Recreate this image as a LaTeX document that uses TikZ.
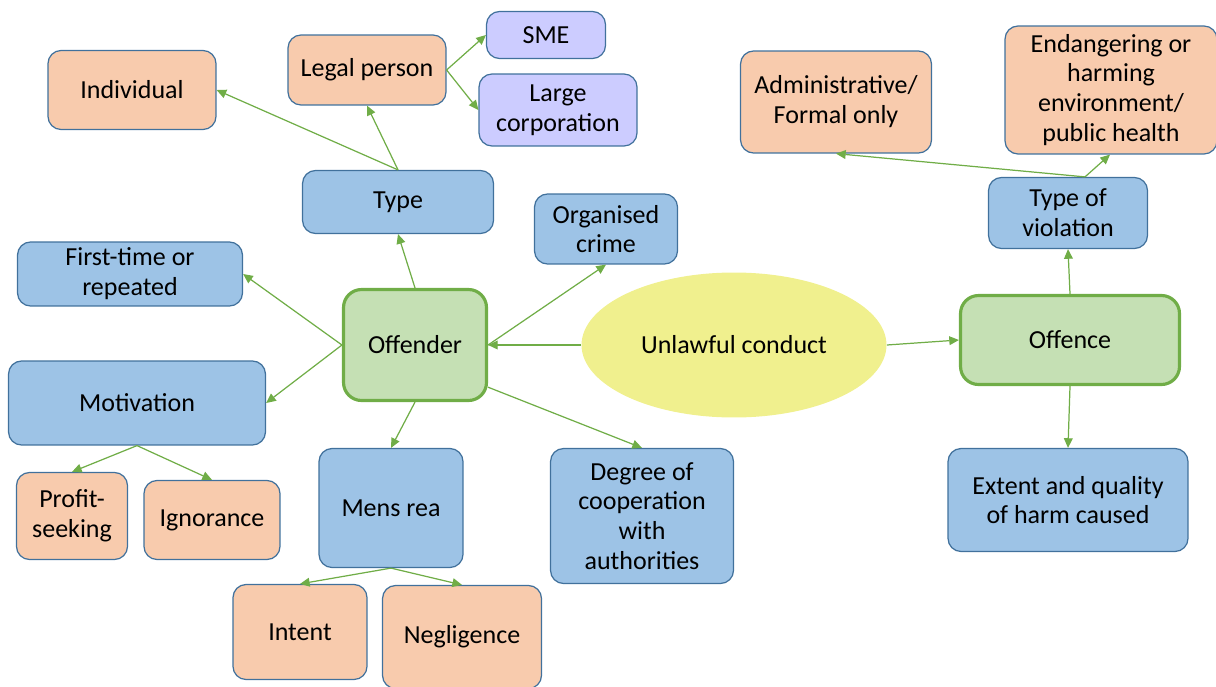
\documentclass[tikz,border=0pt]{standalone}
\usepackage{fontspec}
\setmainfont{Carlito}
\usepackage{xcolor}
\usepackage{tikz}
\usetikzlibrary{arrows.meta,shapes.geometric}
\definecolor{boxorange}{RGB}{248,203,173}
\definecolor{boxblue}{RGB}{157,195,230}
\definecolor{boxlilac}{RGB}{204,204,255}
\definecolor{boxgreen}{RGB}{197,224,180}
\definecolor{linegreen}{RGB}{112,173,71}
\definecolor{edgeblue}{RGB}{65,113,156}
\definecolor{ovalyellow}{RGB}{240,240,142}

\begin{document}
\begin{tikzpicture}[
    x=0.02cm, y=-0.02cm,
    box/.style={draw=edgeblue, line width=0.7pt, rounded corners=0.26cm, align=center,
        inner sep=2pt, font=\fontsize{14.8}{17}\selectfont},
    orangebox/.style={box, fill=boxorange},
    bluebox/.style={box, fill=boxblue},
    lilacbox/.style={box, fill=boxlilac},
    mainbox/.style={box, draw=linegreen, line width=1.8pt, fill=boxgreen, rounded corners=0.36cm},
    link/.style={draw=linegreen, line width=0.7pt, -{Triangle[length=5.5pt,width=5pt]}}
]
\useasboundingbox (0,0) rectangle (1216,686);

% centre
\node[ellipse, fill=ovalyellow, minimum width=6.1cm, minimum height=2.9cm,
    font=\fontsize{14.8}{17}\selectfont] (conduct) at (734,345) {Unlawful conduct};
\node[mainbox, minimum width=2.86cm, minimum height=2.22cm] (offender) at (415,345) {Offender};
\node[mainbox, minimum width=4.38cm, minimum height=1.78cm] (offence) at (1070,340) {Offence};

% offender side
\node[bluebox, minimum width=3.82cm, minimum height=1.26cm] (type) at (398,202) {Type};
\node[orangebox, minimum width=3.36cm, minimum height=1.58cm] (individual) at (132,90) {Individual};
\node[orangebox, minimum width=3.16cm, minimum height=1.40cm] (legal) at (367,70) {Legal person};
\node[lilacbox, minimum width=2.38cm, minimum height=0.94cm] (sme) at (546,35) {SME};
\node[lilacbox, minimum width=3.16cm, minimum height=1.44cm] (large) at (558,110) {Large\\corporation};
\node[bluebox, minimum width=2.86cm, minimum height=1.40cm] (organised) at (606,229) {Organised\\crime};
\node[bluebox, minimum width=4.50cm, minimum height=1.28cm] (firsttime) at (130,274) {First-time or\\repeated};
\node[bluebox, minimum width=5.14cm, minimum height=1.68cm] (motivation) at (137,403) {Motivation};
\node[orangebox, minimum width=2.22cm, minimum height=1.74cm] (profit) at (72,516) {Profit-\\seeking};
\node[orangebox, minimum width=2.72cm, minimum height=1.58cm] (ignorance) at (212,520) {Ignorance};
\node[bluebox, minimum width=2.88cm, minimum height=2.38cm] (mensrea) at (391,508) {Mens rea};
\node[orangebox, minimum width=2.68cm, minimum height=1.90cm] (intent) at (300,632) {Intent};
\node[orangebox, minimum width=3.18cm, minimum height=2.06cm] (negligence) at (462,637) {Negligence};
\node[bluebox, minimum width=3.66cm, minimum height=2.70cm] (cooperation) at (642,516) {Degree of\\cooperation\\with\\authorities};

% offence side
\node[bluebox, minimum width=3.18cm, minimum height=1.42cm] (violation) at (1068,213) {Type of\\violation};
\node[orangebox, minimum width=3.82cm, minimum height=2.04cm] (formal) at (836,102) {Administrative/\\Formal only};
\node[orangebox, minimum width=4.24cm, minimum height=2.56cm] (harming) at (1111,90) {Endangering or\\harming\\environment/\\public health};
\node[bluebox, minimum width=4.80cm, minimum height=2.06cm] (extent) at (1068,500) {Extent and quality\\of harm caused};

% connectors
\draw[link] (conduct.west) -- (offender.east);
\draw[link] (conduct.east) -- (offence.west);
\draw[link] (offender.north) -- (type.south);
\draw[link] (type.north) -- (individual.east);
\draw[link] (type.north) -- (legal.south);
\draw[link] (legal.east) -- (sme.west);
\draw[link] (legal.east) -- (large.west);
\draw[link] (offender.east) -- (organised.south);
\draw[link] (offender.west) -- (firsttime.east);
\draw[link] (offender.west) -- (motivation.east);
\draw[link] (motivation.south) -- (profit.north);
\draw[link] (motivation.south) -- (ignorance.north);
\draw[link] (offender.south) -- (mensrea.north);
\draw[link] (mensrea.south) -- (intent.north);
\draw[link] (mensrea.south) -- (negligence.north);
\draw[link] (offender.-30) -- (cooperation.north);
\draw[link] (offence.north) -- (violation.south);
\draw[link] ([xshift=0.34cm]violation.north) -- (formal.south);
\draw[link] ([xshift=0.34cm]violation.north) -- ([xshift=-0.02cm]harming.south);
\draw[link] (offence.south) -- (extent.north);
\end{tikzpicture}
\end{document}
